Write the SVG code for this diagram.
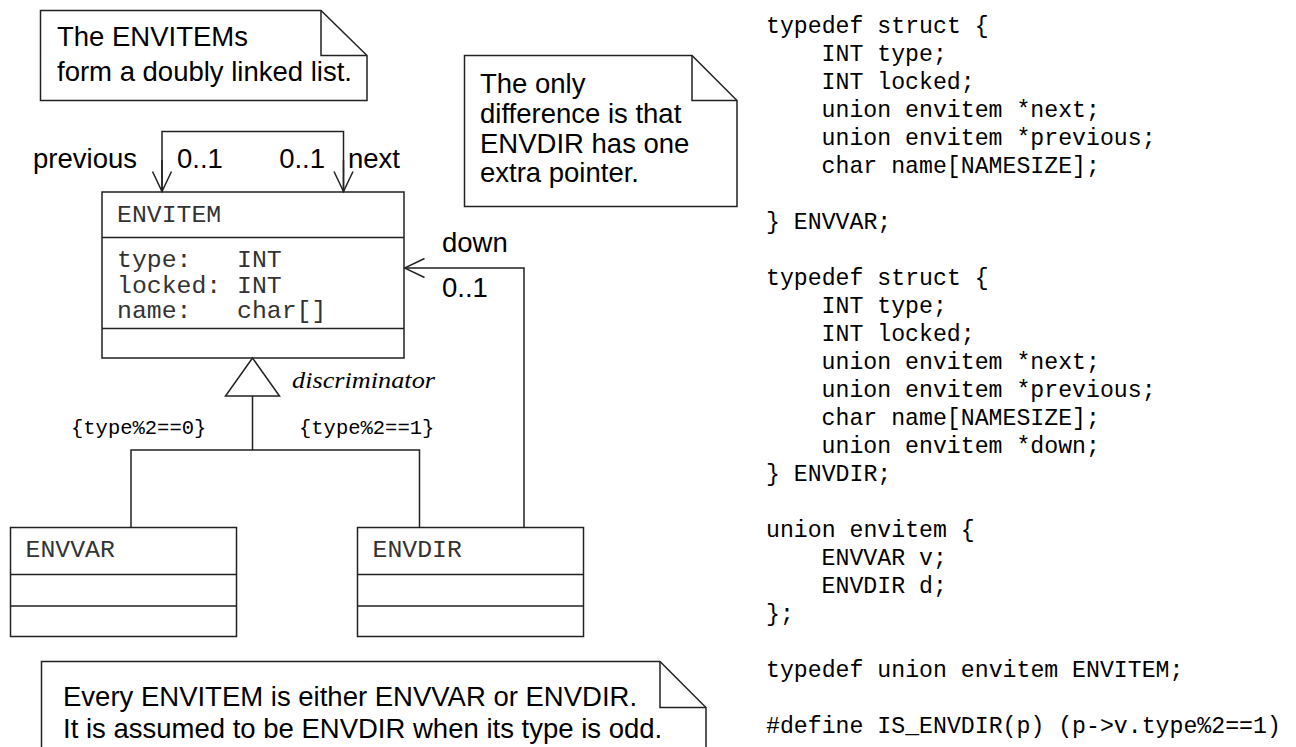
<svg xmlns="http://www.w3.org/2000/svg" width="1296" height="747" viewBox="0 0 1296 747">
  <style>
    .bg { fill: #ffffff; }
    .box { fill: #ffffff; stroke: #222222; stroke-width: 1.5; }
    .line { fill: none; stroke: #222222; stroke-width: 1.5; }
    .sans { font-family: "Liberation Sans", Arial, Helvetica, sans-serif; font-size: 27.5px; fill: #000000; }
    .cls { font-family: "Liberation Mono", "Courier New", monospace; font-size: 24.8px; fill: #333333; }
    .cond { font-family: "Liberation Mono", "Courier New", monospace; font-size: 20.5px; fill: #000000; }
    .disc { font-family: "Liberation Serif", "Times New Roman", serif; font-style: italic; font-size: 23px; fill: #000000; }
    .code { font-family: "Liberation Mono", "Courier New", monospace; font-size: 23.2px; fill: #000000; }
  </style>
  <defs>
    <marker id="open-arrow" viewBox="-22 -12 24 24" refX="0" refY="0" markerWidth="24" markerHeight="24" markerUnits="userSpaceOnUse" orient="auto">
      <path d="M -20 -9.5 L 0 0 L -20 9.5" fill="none" stroke="#222222" stroke-width="1.5"/>
    </marker>
  </defs>

  <rect class="bg" x="0" y="0" width="1296" height="747"/>

  <!-- note: doubly linked list -->
  <g id="note-linked-list">
    <path class="box" d="M 40.5 10.5 L 321 10.5 L 367 55.5 L 367 100.5 L 40.5 100.5 Z"/>
    <path class="line" d="M 321 10.5 L 321 55.5 L 367 55.5"/>
    <text class="sans" x="57" y="46">The ENVITEMs</text>
    <text class="sans" x="57" y="81">form a doubly linked list.</text>
  </g>

  <!-- note: extra pointer -->
  <g id="note-extra-pointer">
    <path class="box" d="M 464.5 55.5 L 692 55.5 L 737 100.5 L 737 206.5 L 464.5 206.5 Z"/>
    <path class="line" d="M 692 55.5 L 692 100.5 L 737 100.5"/>
    <text class="sans" x="480" y="93">The only</text>
    <text class="sans" x="480" y="123">difference is that</text>
    <text class="sans" x="480" y="152.5">ENVDIR has one</text>
    <text class="sans" x="480" y="182">extra pointer.</text>
  </g>

  <!-- note: discriminator rule (runs past the bottom edge) -->
  <g id="note-discriminator">
    <path class="box" d="M 41.5 760 L 41.5 661.5 L 660 661.5 L 706 707.5 L 706 760"/>
    <path class="line" d="M 660 661.5 L 660 707.5 L 706 707.5"/>
    <text class="sans" x="63" y="706">Every ENVITEM is either ENVVAR or ENVDIR.</text>
    <text class="sans" x="63" y="738">It is assumed to be ENVDIR when its type is odd.</text>
  </g>

  <!-- class ENVITEM -->
  <g id="class-envitem">
    <rect class="box" x="102" y="192" width="302" height="166"/>
    <line class="line" x1="102" y1="237.5" x2="404" y2="237.5"/>
    <line class="line" x1="102" y1="328.5" x2="404" y2="328.5"/>
    <text class="cls" x="117" y="222">ENVITEM</text>
    <text class="cls" x="117" y="267">type:</text>
    <text class="cls" x="237" y="267">INT</text>
    <text class="cls" x="117" y="292.5">locked:</text>
    <text class="cls" x="237" y="292.5">INT</text>
    <text class="cls" x="117" y="318">name:</text>
    <text class="cls" x="237" y="318">char[]</text>
  </g>

  <!-- class ENVVAR -->
  <g id="class-envvar">
    <rect class="box" x="10.5" y="527.5" width="226" height="109"/>
    <line class="line" x1="10.5" y1="574.5" x2="236.5" y2="574.5"/>
    <line class="line" x1="10.5" y1="606" x2="236.5" y2="606"/>
    <text class="cls" x="25.5" y="557">ENVVAR</text>
  </g>

  <!-- class ENVDIR -->
  <g id="class-envdir">
    <rect class="box" x="357.5" y="527.5" width="226" height="109"/>
    <line class="line" x1="357.5" y1="574.5" x2="583.5" y2="574.5"/>
    <line class="line" x1="357.5" y1="606" x2="583.5" y2="606"/>
    <text class="cls" x="372.5" y="557">ENVDIR</text>
  </g>

  <!-- associations and generalization -->
  <g id="connectors">
    <!-- previous / next self association -->
    <path class="line" d="M 162 192 L 162 131.5 L 343.5 131.5 L 343.5 192"/>
    <line class="line" x1="162" y1="160" x2="162" y2="191.5" marker-end="url(#open-arrow)"/>
    <line class="line" x1="343.5" y1="160" x2="343.5" y2="191.5" marker-end="url(#open-arrow)"/>
    <text class="sans" x="137" y="168" text-anchor="end">previous</text>
    <text class="sans" x="177" y="168">0..1</text>
    <text class="sans" x="325" y="168" text-anchor="end">0..1</text>
    <text class="sans" x="348" y="168">next</text>

    <!-- down association from ENVDIR -->
    <path class="line" d="M 524 527.5 L 524 268 L 404.5 268" marker-end="url(#open-arrow)"/>
    <text class="sans" x="442" y="252">down</text>
    <text class="sans" x="442" y="297">0..1</text>

    <!-- generalization tree -->
    <polygon class="box" points="252.5,358 225.5,396 279.5,396"/>
    <path class="line" d="M 252.5 396 L 252.5 450 M 131 527.5 L 131 450 L 419.5 450 L 419.5 527.5"/>
    <text class="disc" x="292" y="388" textLength="143" lengthAdjust="spacingAndGlyphs">discriminator</text>
    <text class="cond" x="71" y="434">{type%2==0}</text>
    <text class="cond" x="299" y="434">{type%2==1}</text>
  </g>

  <!-- C declarations -->
  <g id="code">
    <text class="code" x="766" y="32.5">typedef struct {</text>
    <text class="code" x="821.6" y="60.5">INT type;</text>
    <text class="code" x="821.6" y="88.5">INT locked;</text>
    <text class="code" x="821.6" y="116.5">union envitem *next;</text>
    <text class="code" x="821.6" y="144.5">union envitem *previous;</text>
    <text class="code" x="821.6" y="172.5">char name[NAMESIZE];</text>
    <text class="code" x="766" y="228.5">} ENVVAR;</text>

    <text class="code" x="766" y="284.5">typedef struct {</text>
    <text class="code" x="821.6" y="312.5">INT type;</text>
    <text class="code" x="821.6" y="340.5">INT locked;</text>
    <text class="code" x="821.6" y="368.5">union envitem *next;</text>
    <text class="code" x="821.6" y="396.5">union envitem *previous;</text>
    <text class="code" x="821.6" y="424.5">char name[NAMESIZE];</text>
    <text class="code" x="821.6" y="452.5">union envitem *down;</text>
    <text class="code" x="766" y="480.5">} ENVDIR;</text>

    <text class="code" x="766" y="536.5">union envitem {</text>
    <text class="code" x="821.6" y="564.5">ENVVAR v;</text>
    <text class="code" x="821.6" y="592.5">ENVDIR d;</text>
    <text class="code" x="766" y="620.5">};</text>

    <text class="code" x="766" y="676.5">typedef union envitem ENVITEM;</text>

    <text class="code" x="766" y="732.5">#define IS_ENVDIR(p) (p-&gt;v.type%2==1)</text>
  </g>
</svg>
